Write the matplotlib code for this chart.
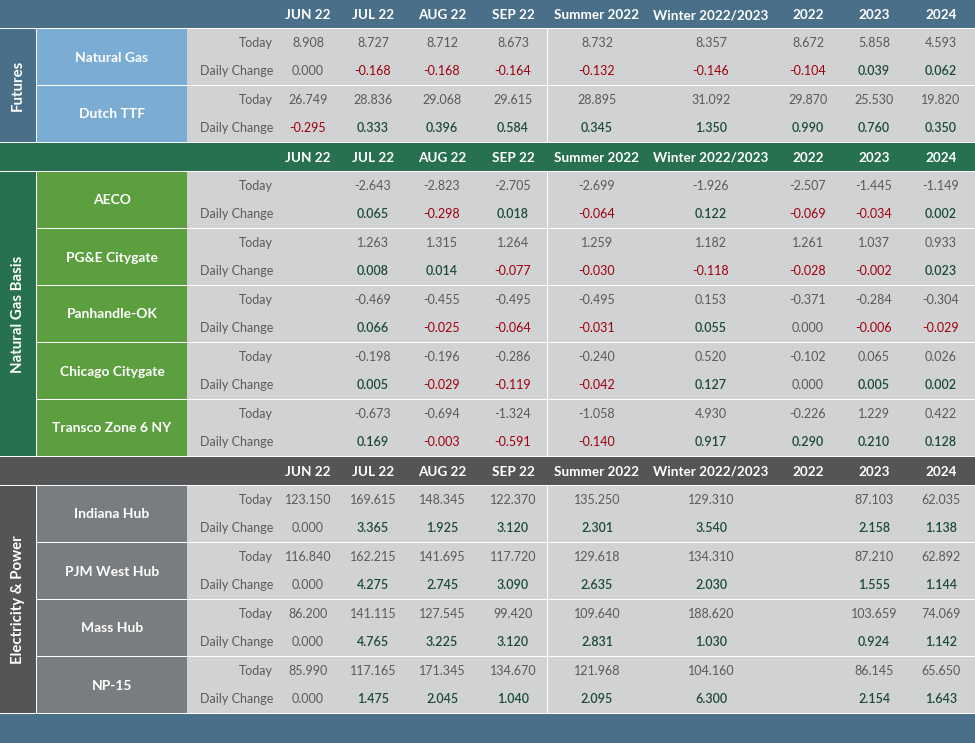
import matplotlib.pyplot as plt
from matplotlib.patches import Rectangle

plt.rcParams['font.family'] = ['Lato', 'DejaVu Sans']

# Column headers
columns = ["JUN 22", "JUL 22", "AUG 22", "SEP 22", "Summer 2022",
           "Winter 2022/2023", "2022", "2023", "2024"]

# Futures
futures_names = ["Natural Gas", "Dutch TTF"]
futures_today = [
    [8.908, 8.727, 8.712, 8.673, 8.732, 8.357, 8.672, 5.858, 4.593],
    [26.749, 28.836, 29.068, 29.615, 28.895, 31.092, 29.870, 25.530, 19.820],
]
futures_change = [
    [0.000, -0.168, -0.168, -0.164, -0.132, -0.146, -0.104, 0.039, 0.062],
    [-0.295, 0.333, 0.396, 0.584, 0.345, 1.350, 0.990, 0.760, 0.350],
]

# Natural gas basis (no JUN 22 value)
basis_names = ["AECO", "PG&E Citygate", "Panhandle-OK", "Chicago Citygate",
               "Transco Zone 6 NY"]
basis_today = [
    [None, -2.643, -2.823, -2.705, -2.699, -1.926, -2.507, -1.445, -1.149],
    [None, 1.263, 1.315, 1.264, 1.259, 1.182, 1.261, 1.037, 0.933],
    [None, -0.469, -0.455, -0.495, -0.495, 0.153, -0.371, -0.284, -0.304],
    [None, -0.198, -0.196, -0.286, -0.240, 0.520, -0.102, 0.065, 0.026],
    [None, -0.673, -0.694, -1.324, -1.058, 4.930, -0.226, 1.229, 0.422],
]
basis_change = [
    [None, 0.065, -0.298, 0.018, -0.064, 0.122, -0.069, -0.034, 0.002],
    [None, 0.008, 0.014, -0.077, -0.030, -0.118, -0.028, -0.002, 0.023],
    [None, 0.066, -0.025, -0.064, -0.031, 0.055, 0.000, -0.006, -0.029],
    [None, 0.005, -0.029, -0.119, -0.042, 0.127, 0.000, 0.005, 0.002],
    [None, 0.169, -0.003, -0.591, -0.140, 0.917, 0.290, 0.210, 0.128],
]

# Electricity & power (no 2022 value)
power_names = ["Indiana Hub", "PJM West Hub", "Mass Hub", "NP-15"]
power_today = [
    [123.150, 169.615, 148.345, 122.370, 135.250, 129.310, None, 87.103, 62.035],
    [116.840, 162.215, 141.695, 117.720, 129.618, 134.310, None, 87.210, 62.892],
    [86.200, 141.115, 127.545, 99.420, 109.640, 188.620, None, 103.659, 74.069],
    [85.990, 117.165, 171.345, 134.670, 121.968, 104.160, None, 86.145, 65.650],
]
power_change = [
    [0.000, 3.365, 1.925, 3.120, 2.301, 3.540, None, 2.158, 1.138],
    [0.000, 4.275, 2.745, 3.090, 2.635, 2.030, None, 1.555, 1.144],
    [0.000, 4.765, 3.225, 3.120, 2.831, 1.030, None, 0.924, 1.142],
    [0.000, 1.475, 2.045, 1.040, 2.095, 6.300, None, 2.154, 1.643],
]

sections = [
    ("Futures", futures_names, futures_today, futures_change,
     "#4a7089", "#4a7089", "#7bacd4"),
    ("Natural Gas Basis", basis_names, basis_today, basis_change,
     "#277150", "#277150", "#5b9f3f"),
    ("Electricity & Power", power_names, power_today, power_change,
     "#545557", "#545557", "#7a7d80"),
]

W, H = 975, 743
col_x = [308, 373, 442, 513, 597, 711, 808, 874, 941]
label_x = 273
head_h = 28
block_h = 57
body_col = "#d0d2d3"
gray_txt = "#5a5a5a"
red_txt = "#a0000c"
green_txt = "#1b4a3c"
val_size = 9

fig = plt.figure(figsize=(W / 100, H / 100), dpi=100)
ax = fig.add_axes([0, 0, 1, 1])
ax.set_xlim(0, W)
ax.set_ylim(H, 0)
ax.axis("off")
fig.patch.set_facecolor("white")


def fmt(v):
    return "" if v is None else f"{v:.3f}"


y = 0
for title, names, today, change, head_col, cat_col, name_col in sections:
    # header band
    ax.add_patch(Rectangle((0, y), W, head_h, color=head_col, lw=0))
    for cx, c in zip(col_x, columns):
        ax.text(cx, y + head_h / 2 + 1, c, color="white", fontsize=9.7,
                fontweight="bold", ha="center", va="center")
    y += head_h + 1
    top = y
    n = len(names)
    # category column
    ax.add_patch(Rectangle((0, top), 36, block_h * n - 1, color=cat_col, lw=0))
    ax.text(18, top + (block_h * n - 1) / 2, title, rotation=90, color="white",
            fontsize=10.8, fontweight="bold", ha="center", va="center")
    for i, name in enumerate(names):
        by = top + i * block_h
        ax.add_patch(Rectangle((37, by), 150, block_h - 1, color=name_col, lw=0))
        ax.add_patch(Rectangle((187, by), 360, block_h - 1, color=body_col, lw=0))
        ax.add_patch(Rectangle((548, by), W - 548, block_h - 1, color=body_col, lw=0))
        ax.text(112, by + 28.5, name, color="white", fontsize=10,
                fontweight="bold", ha="center", va="center")
        ax.text(label_x, by + 14, "Today", color=gray_txt, fontsize=val_size,
                ha="right", va="center")
        ax.text(label_x, by + 42, "Daily Change", color=gray_txt, fontsize=val_size,
                ha="right", va="center")
        for cx, tv, cv in zip(col_x, today[i], change[i]):
            ax.text(cx, by + 14, fmt(tv), color=gray_txt, fontsize=val_size,
                    ha="center", va="center")
            if cv is None:
                continue
            if cv < 0:
                colr, wt = red_txt, "normal"
            elif cv > 0:
                colr, wt = green_txt, "semibold"
            else:
                colr, wt = gray_txt, "normal"
            ax.text(cx, by + 42, fmt(cv), color=colr, fontsize=val_size,
                    fontweight=wt, ha="center", va="center")
    y = top + block_h * n

# bottom band
ax.add_patch(Rectangle((0, y), W, H - y, color="#4a7089", lw=0))

fig.savefig("out.png", dpi=100, facecolor="white")
